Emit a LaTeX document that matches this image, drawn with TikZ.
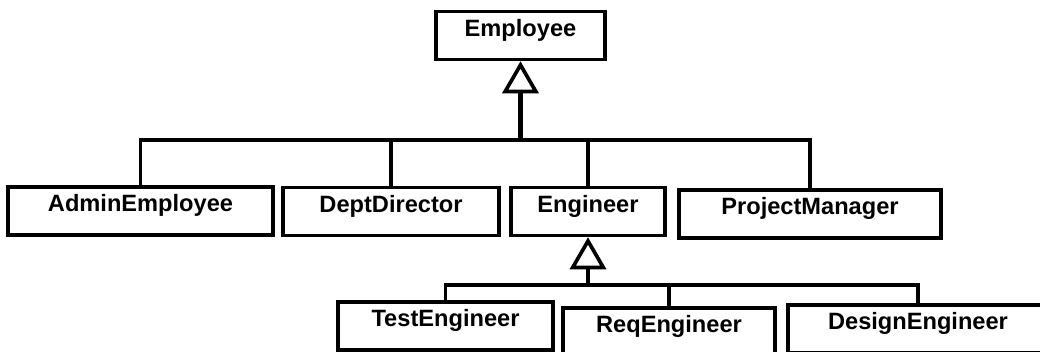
\documentclass[tikz,border=0pt]{standalone}
\usepackage{fontspec}
\setmainfont{Liberation Sans}
\usetikzlibrary{arrows.meta}

\begin{document}
\begin{tikzpicture}[x=0.025cm, y=-0.025cm,
        classbox/.style={draw, line width=2.5pt, inner xsep=0pt, inner ysep=0pt,
            text height=0.625cm, text depth=0.575cm,
            font=\fontsize{16.8}{19}\selectfont\bfseries},
        link/.style={line width=2.3pt},
        inherit/.style={line width=2.4pt,
            -{Triangle[open, length=0.8cm, width=0.9cm, line width=2.6pt]}}]
        \useasboundingbox (0,0) rectangle (1040,352);
        \clip (0,0) rectangle (1040,352);

        \node [classbox, minimum width=4.225cm] (employee) at (520.5,35.5) {Employee};

        \node [classbox, minimum width=6.625cm] (adminemp) at (140.5,211) {AdminEmployee};
        \node [classbox, minimum width=5.4cm] (deptdir) at (391,211.5) {DeptDirector};
        \node [classbox, minimum width=3.85cm] (engineer) at (588,211.5) {Engineer};
        \node [classbox, minimum width=6.55cm] (projmgr) at (810,214) {ProjectManager};

        \node [classbox, minimum width=5.375cm] (testeng) at (445.5,326) {TestEngineer};
        \node [classbox, minimum width=5.3cm] (reqeng) at (669,332) {ReqEngineer};
        \node [classbox, minimum width=6.5cm] (designeng) at (918,329) {DesignEngineer};

        \coordinate (hub) at (520.5,140);
        \coordinate (enghub) at (588,285);

        \draw [inherit, line width=3.4pt] (hub) -- (employee.south);
        \draw [link] (adminemp.north) |- (hub) -| (projmgr.north);
        \draw [link] (deptdir.north) -- (deptdir.north |- hub);
        \draw [link] (engineer.north) -- (engineer.north |- hub);

        \draw [inherit] (enghub) -- (engineer.south);
        \draw [link] (testeng.north) |- (enghub) -| (designeng.north);
        \draw [link] (reqeng.north) -- (reqeng.north |- enghub);
    \end{tikzpicture}
\end{document}
